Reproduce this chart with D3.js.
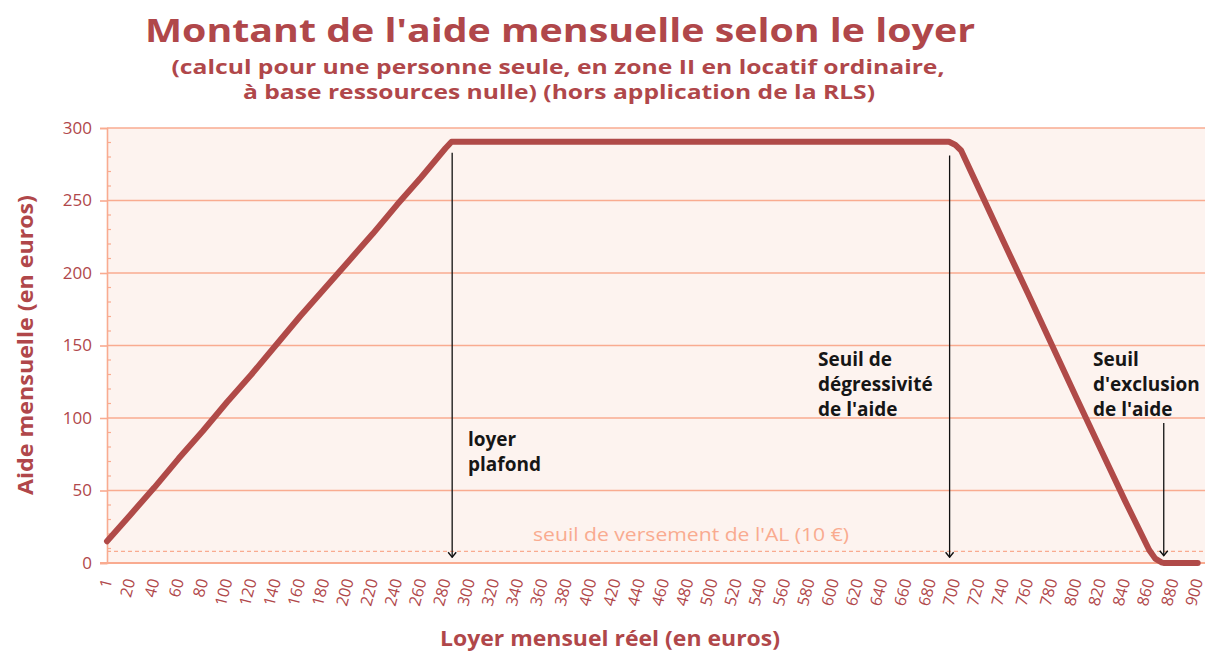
<!DOCTYPE html>
<html><head><meta charset="utf-8">
<script src="https://cdn.jsdelivr.net/npm/d3@7"></script>
<style>
html,body{margin:0;padding:0;background:#fff;}
svg{display:block;font-family:"Open Sans",sans-serif;}
</style></head>
<body><svg id="c" width="1208" height="652"></svg>
<script>
// ---- data ----
const rentValues = [1, 20, 40, 60, 80, 100, 120, 140, 160, 180, 200, 220, 240, 260, 280, 285, 300, 400, 500, 600, 690, 695, 700, 705, 720, 740, 760, 780, 800, 820, 840, 860, 865, 870, 872, 880, 900];
const aideValues = [15, 33, 52, 72, 91, 111, 130, 150, 170, 189, 208, 227, 247, 266, 286, 290.5, 290.5, 290.5, 290.5, 290.5, 290.5, 290.5, 288.5, 284.5, 257.5, 221.5, 186, 150, 114, 78.5, 43, 9, 3, 0.5, 0, 0, 0];
const xTickLabels = [1, 20, 40, 60, 80, 100, 120, 140, 160, 180, 200, 220, 240, 260, 280, 300, 320, 340, 360, 380, 400, 420, 440, 460, 480, 500, 520, 540, 560, 580, 600, 620, 640, 660, 680, 700, 720, 740, 760, 780, 800, 820, 840, 860, 880, 900];
const yTickLabels = [0, 50, 100, 150, 200, 250, 300];
const seuilVersement = 8;
const annotRent = [285.5, 695.5, 872];
const annotTop = [283, 281, 96.5];
const annotBottom = [4, 4, 5];
const annotLines = [["loyer", "plafond"], ["Seuil de", "dégressivité", "de l'aide"], ["Seuil", "d'exclusion", "de l'aide"]];

const titleText = "Montant de l'aide mensuelle selon le loyer";
const subtitle1 = "(calcul pour une personne seule, en zone II en locatif ordinaire,";
const subtitle2 = "à base ressources nulle) (hors application de la RLS)";
const yTitle = "Aide mensuelle (en euros)";
const xTitle = "Loyer mensuel réel (en euros)";
const seuilLabel = "seuil de versement de l'AL (10 €)";

// ---- style ----
const red = "#b0474a";
const salmon = "#f9ab90";
const bg = "#fdf3ef";

const svg = d3.select("#c");
const L = 107, R = 1205, T = 128, B = 563;
const x = d3.scaleLinear().domain([1, 906]).range([L, R]);
const y = d3.scaleLinear().domain([0, 300]).range([B, T]);

svg.append("rect").attr("x", L).attr("y", T).attr("width", R - L).attr("height", B - T).attr("fill", bg);

// gridlines
svg.append("g").selectAll("line").data(yTickLabels.filter(d => d > 0)).join("line")
  .attr("x1", L).attr("x2", R).attr("y1", d => y(d)).attr("y2", d => y(d))
  .attr("stroke", salmon).attr("stroke-width", 1.6);

// y axis
const yAxis = svg.append("g").attr("transform", `translate(${L},0)`)
  .call(d3.axisLeft(y).tickValues(yTickLabels).tickSize(7).tickPadding(8));
yAxis.select(".domain").attr("stroke", salmon).attr("stroke-width", 1.6);
yAxis.selectAll(".tick line").attr("stroke", salmon).attr("stroke-width", 1.6);
yAxis.selectAll("text").attr("fill", red).attr("font-size", 17).attr("font-family", "Open Sans");
// minor ticks
svg.append("g").selectAll("line").data(d3.range(10, 300, 10).filter(d => d % 50 !== 0)).join("line")
  .attr("x1", L).attr("x2", L + 4).attr("y1", d => y(d)).attr("y2", d => y(d))
  .attr("stroke", salmon).attr("stroke-width", 1.2);

// x axis line
svg.append("line").attr("x1", L - 7).attr("x2", R).attr("y1", y(0)).attr("y2", y(0))
  .attr("stroke", salmon).attr("stroke-width", 2);

// x tick labels
svg.append("g").selectAll("text").data(xTickLabels).join("text")
  .attr("transform", d => `translate(${x(d)},${B + 16}) rotate(-75)`)
  .attr("text-anchor", "end").attr("dy", "0.35em")
  .attr("fill", red).attr("font-size", 16).attr("font-family", "Open Sans")
  .text(d => d);

// dashed threshold
svg.append("line").attr("x1", L).attr("x2", R).attr("y1", y(seuilVersement)).attr("y2", y(seuilVersement))
  .attr("stroke", salmon).attr("stroke-width", 1.3).attr("stroke-dasharray", "4,3");
svg.append("text").attr("x", 691).attr("y", 541).attr("text-anchor", "middle")
  .attr("fill", salmon).attr("font-size", 19).attr("textLength", 316).attr("lengthAdjust", "spacingAndGlyphs")
  .text(seuilLabel);

// curve
const pts = rentValues.map((r, i) => [r, aideValues[i]]);
svg.append("path").datum(pts)
  .attr("d", d3.line().x(d => x(d[0])).y(d => y(d[1])))
  .attr("fill", "none").attr("stroke", "#b04a48").attr("stroke-width", 6)
  .attr("stroke-linejoin", "round").attr("stroke-linecap", "round");

// arrows
const defs = svg.append("defs");
defs.append("marker").attr("id", "arr").attr("viewBox", "0 0 10 10").attr("refX", 5).attr("refY", 9)
  .attr("markerWidth", 10).attr("markerHeight", 10).attr("markerUnits", "userSpaceOnUse").attr("orient", "0")
  .append("path").attr("d", "M1,4 L5,9 L9,4").attr("fill", "none").attr("stroke", "#111").attr("stroke-width", 1.4);
svg.append("g").selectAll("line").data(annotRent).join("line")
  .attr("x1", d => x(d)).attr("x2", d => x(d))
  .attr("y1", (d, i) => y(annotTop[i])).attr("y2", (d, i) => y(annotBottom[i]))
  .attr("stroke", "#111").attr("stroke-width", 1.3).attr("marker-end", "url(#arr)");

// annotation texts
const annPos = [[468, 446], [818, 366], [1093, 366]];
annotLines.forEach((lines, i) => {
  const t = svg.append("text").attr("x", annPos[i][0]).attr("y", annPos[i][1])
    .attr("fill", "#161616").attr("font-size", 19).attr("font-weight", 700).attr("font-family", "Open Sans");
  lines.forEach((s, j) => t.append("tspan").attr("x", annPos[i][0]).attr("dy", j ? 25 : 0).text(s));
});

// titles
svg.append("text").attr("x", 560).attr("y", 42).attr("text-anchor", "middle")
  .attr("fill", red).attr("font-size", 32).attr("font-weight", 700)
  .attr("textLength", 830).attr("lengthAdjust", "spacingAndGlyphs").text(titleText);
svg.append("text").attr("x", 558).attr("y", 74).attr("text-anchor", "middle")
  .attr("fill", red).attr("font-size", 19).attr("font-weight", 700)
  .attr("textLength", 773).attr("lengthAdjust", "spacingAndGlyphs").text(subtitle1);
svg.append("text").attr("x", 559).attr("y", 99).attr("text-anchor", "middle")
  .attr("fill", red).attr("font-size", 19).attr("font-weight", 700)
  .attr("textLength", 632).attr("lengthAdjust", "spacingAndGlyphs").text(subtitle2);
svg.append("text").attr("transform", "translate(33,345) rotate(-90)").attr("text-anchor", "middle")
  .attr("fill", red).attr("font-size", 22).attr("font-weight", 700)
  .attr("textLength", 300).attr("lengthAdjust", "spacingAndGlyphs").text(yTitle);
svg.append("text").attr("x", 610).attr("y", 646).attr("text-anchor", "middle")
  .attr("fill", red).attr("font-size", 22).attr("font-weight", 700)
  .attr("textLength", 340).attr("lengthAdjust", "spacingAndGlyphs").text(xTitle);
</script></body></html>
